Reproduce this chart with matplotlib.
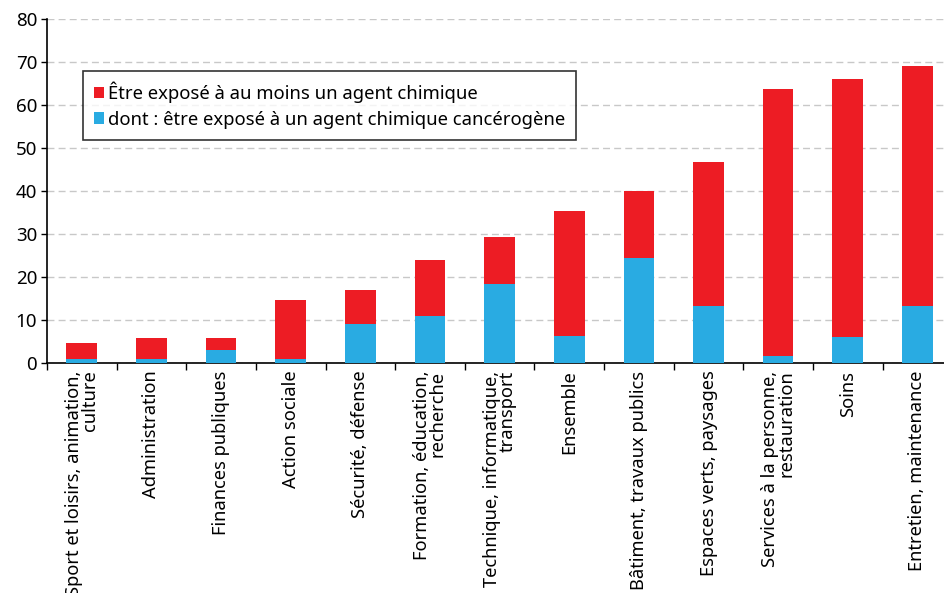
import matplotlib.pyplot as plt
import numpy as np

plt.rcParams['font.family'] = ['Noto Sans', 'DejaVu Sans']

categories = ['Sport et loisirs, animation,\nculture', 'Administration', 'Finances publiques',
              'Action sociale', 'Sécurité, défense', 'Formation, éducation,\nrecherche',
              'Technique, informatique,\ntransport', 'Ensemble', 'Bâtiment, travaux publics',
              'Espaces verts, paysages', 'Services à la personne,\nrestauration', 'Soins',
              'Entretien, maintenance']
chimique = [4.7, 5.9, 5.9, 14.6, 17.0, 24.0, 29.4, 35.3, 40.0, 46.8, 63.6, 66.0, 69.1]
cancerogene = [1.0, 1.0, 2.9, 1.0, 9.0, 10.8, 18.3, 6.2, 24.5, 13.3, 1.6, 6.0, 13.3]

red = '#ED1C24'
blue = '#29ABE2'

fig = plt.figure(figsize=(9.45, 5.93), dpi=100)
ax = fig.add_axes([0.0497, 0.388, 0.958, 0.580])

x = np.arange(len(categories))
ax.bar(x, chimique, width=0.44, color=red, label='Être exposé à au moins un agent chimique', zorder=3)
ax.bar(x, cancerogene, width=0.44, color=blue, label='dont : être exposé à un agent chimique cancérogène', zorder=4)

ax.set_xlim(-0.5, len(categories) - 0.5)
ax.set_ylim(0, 80)
ax.set_yticks(range(0, 81, 10))
ax.yaxis.grid(True, linestyle=(0, (5, 3)), color='#c8c8c8', linewidth=1, zorder=0)
ax.tick_params(axis='y', labelsize=13.5, length=4, width=1, pad=3)

ax.set_xticks(x)
ax.set_xticklabels([])
ax.set_xticks(np.arange(-0.5, len(categories), 1), minor=True)
ax.tick_params(axis='x', which='major', length=0)
ax.tick_params(axis='x', which='minor', length=5, width=1, direction='out')
for i, lab in enumerate(categories):
    ax.annotate(lab, xy=(i, 0), xycoords='data', xytext=(0, -5.5), textcoords='offset points',
                rotation=90, ha='center', va='top', multialignment='right', fontsize=13.2,
                linespacing=0.85, annotation_clip=False)

for s in ['top', 'right']:
    ax.spines[s].set_visible(False)
ax.spines['left'].set_linewidth(1.2)
ax.spines['bottom'].set_linewidth(1.2)

leg = ax.legend(loc='upper left', bbox_to_anchor=(0.04, 0.85), fontsize=13.3, frameon=True,
                fancybox=False, edgecolor='black', handlelength=0.55, handleheight=0.55,
                handletextpad=0.2, borderpad=0.6, labelspacing=0.4, borderaxespad=0)
leg.get_frame().set_linewidth(1.2)
leg.set_zorder(5)

fig.savefig('out.png', dpi=100)
